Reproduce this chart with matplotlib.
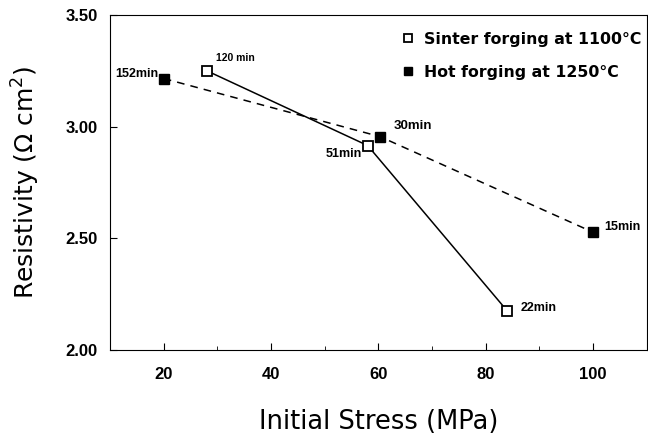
import matplotlib
matplotlib.use("Agg")
import matplotlib.pyplot as plt
from matplotlib.ticker import MultipleLocator

sinter_x = [28, 58, 84]
sinter_y = [3.25, 2.915, 2.175]
sinter_labels = ["120 min", "51min", "22min"]

hot_x = [20, 60.3, 100]
hot_y = [3.215, 2.955, 2.527]
hot_labels = ["152min", "30min", "15min"]

xticks = [20, 40, 60, 80, 100]
yticks = [2.00, 2.50, 3.00, 3.50]

plt.rcParams['font.family'] = ['Liberation Sans', 'DejaVu Sans']

fig = plt.figure(figsize=(6.48, 4.38), dpi=100)
ax = fig.add_axes([0.170, 0.201, 0.828, 0.765])

ax.plot(sinter_x, sinter_y, '-', color='black', lw=1.1, marker='s', ms=7,
        mfc='white', mec='black', mew=1.3, label='Sinter forging at 1100°C', zorder=3)
ax.plot(hot_x, hot_y, '--', color='black', lw=1.1, dashes=(5, 4), marker='s', ms=7,
        mfc='black', mec='black', label='Hot forging at 1250°C', zorder=3)

# annotations
offs_s = [(7, 9, 'left', 7.5), (-4, -6, 'right', 9), (10, 2, 'left', 9)]
for x, y, t, (dx, dy, ha, fs) in zip(sinter_x, sinter_y, sinter_labels, offs_s):
    ax.annotate(t, (x, y), xytext=(dx, dy), textcoords='offset points', ha=ha,
                va='center', fontsize=fs, fontweight='bold')
offs_h = [(-4, 3, 'right', 9), (10, 8, 'left', 9.5), (8, 4, 'left', 9)]
for x, y, t, (dx, dy, ha, fs) in zip(hot_x, hot_y, hot_labels, offs_h):
    ax.annotate(t, (x, y), xytext=(dx, dy), textcoords='offset points', ha=ha,
                va='center', fontsize=fs, fontweight='bold')

ax.set_xlim(10, 110)
ax.set_ylim(2.0, 3.5)
ax.set_xticks(xticks)
ax.set_yticks(yticks)
ax.set_yticklabels([f"{v:.2f}" for v in yticks])
ax.xaxis.set_minor_locator(MultipleLocator(10))
ax.tick_params(which='both', direction='in', labelsize=12)
ax.tick_params(which='major', length=5)
ax.tick_params(which='minor', length=3)
for lab in ax.get_xticklabels() + ax.get_yticklabels():
    lab.set_fontweight('bold')
ax.tick_params(axis='x', pad=12)
ax.tick_params(axis='y', pad=9)

ax.set_xlabel('Initial Stress (MPa)', fontsize=18.5, labelpad=20,
              family=['DejaVu Sans'])
ax.set_ylabel('Resistivity (Ω cm$^2$)', fontsize=18, labelpad=17,
              family=['DejaVu Sans'])

leg = ax.legend(loc='upper right', bbox_to_anchor=(1.006, 0.975), frameon=False,
                handlelength=0.8,
                prop={'family': ['DejaVu Sans'], 'size': 11.3, 'weight': 'bold'},
                handletextpad=0.6, markerscale=0.9, borderaxespad=0.15, labelspacing=1.15)
for h in leg.legend_handles:
    h.set_linestyle('None')

fig.savefig('out.png', dpi=100)
